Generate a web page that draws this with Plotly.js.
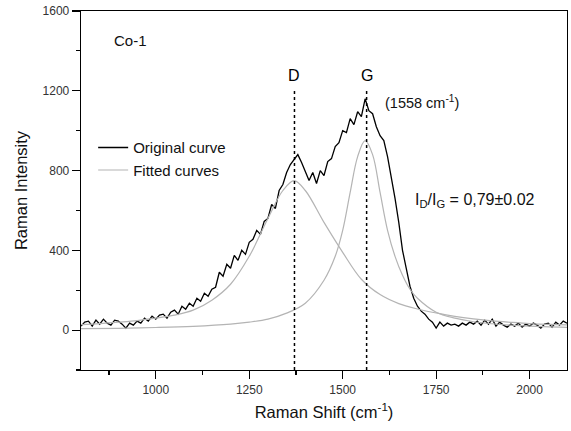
<!DOCTYPE html>
<html><head><meta charset="utf-8">
<script src="https://cdn.plot.ly/plotly-3.0.1.min.js"></script>
<style>html,body{margin:0;padding:0;background:#fff}#c{width:571px;height:431px}</style>
</head><body><div id="c"></div>
<script>
// Original spectrum (Raman shift, intensity)
const shiftOrig = [800,810,820,830,840,850,860,870,880,890,900,910,920,930,940,950,960,970,980,990,
1000,1010,1020,1030,1040,1050,1060,1070,1080,1090,1100,1110,1120,1130,1140,1150,1160,1170,1180,1190,
1200,1210,1220,1230,1240,1250,1260,1270,1280,1290,1300,1310,1320,1330,1340,1350,1360,1370,1380,1390,
1400,1410,1420,1430,1440,1450,1460,1470,1480,1490,1500,1510,1520,1530,1540,1550,1560,1570,1580,1590,
1600,1610,1620,1630,1640,1650,1660,1670,1680,1690,1700,1710,1720,1730,1740,1750,1760,1770,1780,1790,
1800,1810,1820,1830,1840,1850,1860,1870,1880,1890,1900,1910,1920,1930,1940,1950,1960,1970,1980,1990,
2000,2010,2020,2030,2040,2050,2060,2070,2080,2090,2100];
const intensityOrig = [20,40,45,20,50,30,55,35,25,50,45,30,10,35,25,45,35,60,45,70,
55,75,80,60,90,100,80,120,105,135,120,160,145,185,170,205,215,290,270,330,
310,375,350,400,380,440,455,500,480,545,560,630,610,700,730,790,830,855,880,840,
790,750,790,735,800,775,845,860,920,940,1000,990,1060,1030,1095,1070,1160,1100,1085,1020,
975,950,870,770,660,540,400,310,220,160,120,95,80,55,40,10,40,20,35,25,
30,20,35,25,40,30,45,25,50,30,55,20,40,25,15,30,20,35,15,30,
20,35,25,10,30,35,15,40,25,45,35];

// Fitted D band
const shiftD = [800,850,900,950,1000,1050,1100,1150,1200,1250,1300,1340,1370,1400,1450,1500,1550,1600,1650,1700,1750,1800,1850,1900,1950,2000,2050,2100];
const fitD   = [28,33,40,48,60,75,100,150,230,370,560,700,750,700,540,390,255,178,133,106,86,69,56,46,39,33,29,26];

// Fitted G band
const shiftG = [800,900,1000,1100,1200,1250,1300,1350,1400,1450,1480,1500,1520,1540,1560,1580,1600,1620,1640,1660,1680,1700,1750,1800,1850,1900,1950,2000,2100];
const fitG   = [7,9,13,19,30,40,55,85,135,250,370,500,690,870,950,880,690,500,370,275,205,160,90,60,42,32,25,20,14];

// Band positions (vertical dotted markers)
const bandPos = [1371, 1564];
const bandLabels = ['D', 'G'];
const legendNames = ['Original curve', 'Fitted curves'];

const font = 'Liberation Sans, Arial, sans-serif';
const traces = [
  {x: shiftOrig, y: intensityOrig, type:'scatter', mode:'lines', name: legendNames[0],
   line:{color:'#000', width:1.3}},
  {x: shiftD, y: fitD, type:'scatter', mode:'lines', name: legendNames[1], line:{color:'#b4b4b4', width:1.2, shape:'spline'}},
  {x: shiftG, y: fitG, type:'scatter', mode:'lines', showlegend:false, line:{color:'#b4b4b4', width:1.2, shape:'spline'}}
];
bandPos.forEach(p => traces.push({x:[p,p], y:[-200,1210], type:'scatter', mode:'lines', showlegend:false,
  line:{color:'#000', width:1.5, dash:'dot'}}));

const annotations = bandPos.map((p,i) => ({x:p, y:1275, xref:'x', yref:'y', text:bandLabels[i], showarrow:false,
  font:{family:font, size:16, color:'#000'}}));
annotations.push({x:1712, y:1145, xref:'x', yref:'y', text:'(1558 cm<sup>-1</sup>)', showarrow:false,
  font:{family:font, size:14.5, color:'#111'}});
annotations.push({x:933, y:1450, xref:'x', yref:'y', text:'Co-1', showarrow:false,
  font:{family:font, size:15, color:'#111'}});
annotations.push({x:1688, y:650, xref:'x', yref:'y', xanchor:'left', text:'I<sub>D</sub>/I<sub>G</sub> = 0,79±0.02', showarrow:false,
  font:{family:font, size:16, color:'#111'}});

const layout = {
  width:571, height:431,
  margin:{l:81, r:4, t:11, b:61},
  paper_bgcolor:'#fff', plot_bgcolor:'#fff',
  showlegend:true,
  legend:{x:0.025, y:0.665, xanchor:'left', yanchor:'top', bgcolor:'rgba(0,0,0,0)',
    font:{family:font, size:15, color:'#111'}, tracegroupgap:0},
  xaxis:{range:[800,2100], tick0:1000, dtick:250, ticks:'outside', ticklen:8, tickwidth:1.2, tickcolor:'#000',
    minor:{dtick:125, tick0:1000, ticks:'outside', ticklen:4, tickcolor:'#000'},
    showline:true, linecolor:'#000', linewidth:1.3, mirror:true, showgrid:false, zeroline:false,
    tickfont:{family:font, size:12, color:'#333'},
    title:{text:'Raman Shift (cm<sup>-1</sup>)', font:{family:font, size:16.5, color:'#111'}, standoff:10}},
  yaxis:{range:[-200,1600], tick0:0, dtick:400, ticks:'outside', ticklen:8, tickwidth:1.2, tickcolor:'#000',
    minor:{dtick:200, tick0:0, ticks:'outside', ticklen:4, tickcolor:'#000'},
    showline:true, linecolor:'#000', linewidth:1.3, mirror:true, showgrid:false, zeroline:false,
    tickfont:{family:font, size:12, color:'#333'},
    title:{text:'Raman Intensity', font:{family:font, size:16.5, color:'#111'}, standoff:10}},
  annotations: annotations
};
Plotly.newPlot('c', traces, layout, {displayModeBar:false, staticPlot:true});
</script></body></html>
